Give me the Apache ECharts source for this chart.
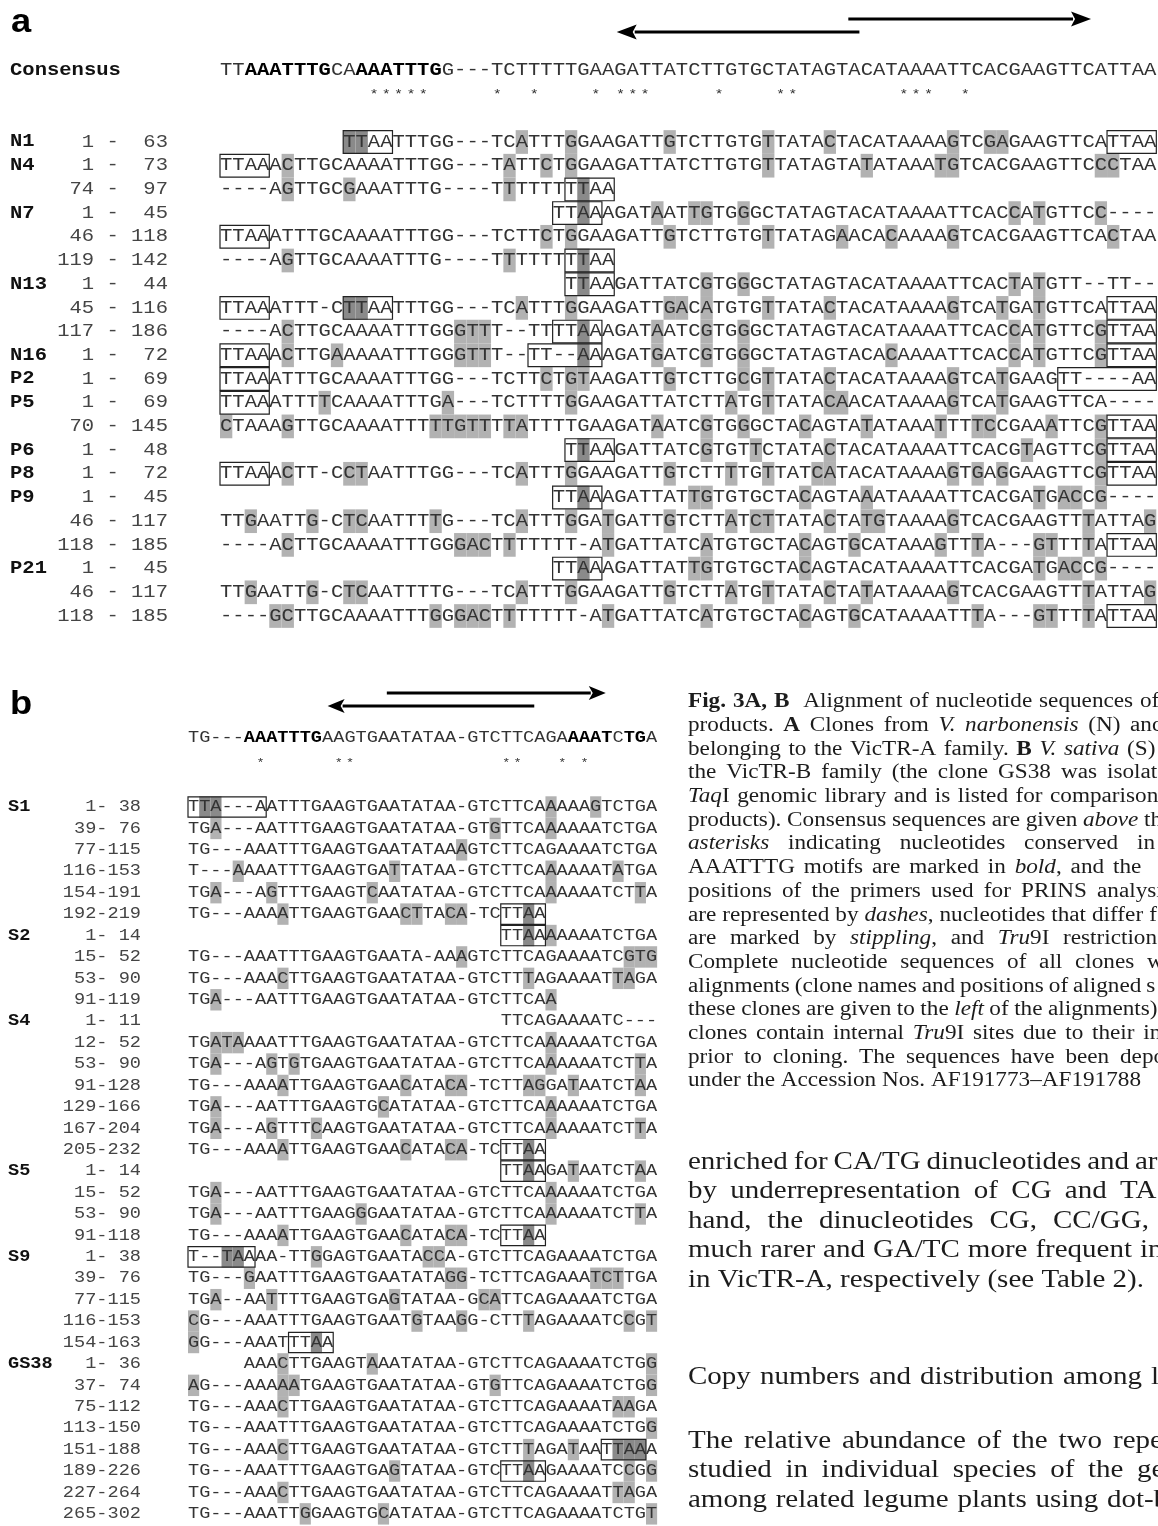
<!DOCTYPE html>
<html><head><meta charset="utf-8">
<script src="https://cdn.jsdelivr.net/npm/echarts@6/dist/echarts.min.js"></script>
<style>html,body{margin:0;padding:0;background:#fff}#main{width:1158px;height:1526px}</style>
</head><body><div id="main"></div>
<script>
// ===================== DATA =====================
// Panel a (VicTR-A). Lowercase letter = nucleotide differing from consensus (stippled).
const A_consensus = 'TTAAATTTGCAAAATTTGG---TCTTTTTGAAGATTATCTTGTGCTATAGTACATAAAATTCACGAAGTTCATTAA';
const A_consBold = [[2, 8], [11, 17]];
const A_stars = [12, 13, 14, 15, 16, 22, 25, 30, 32, 33, 34, 40, 45, 46, 55, 56, 57, 60];
const A_primers = [[51.9, 32.2], [51.0, 70.7]];
const A_names = ['N1', 'N4', '', 'N7', '', '', 'N13', '', '', 'N16', 'P2', 'P5', '', 'P6', 'P8', 'P9', '', '', 'P21', '', ''];
const A_from = [1, 1, 74, 1, 46, 119, 1, 45, 117, 1, 1, 1, 70, 1, 1, 1, 46, 118, 1, 46, 118];
const A_to = [63, 73, 97, 45, 118, 142, 44, 116, 186, 72, 69, 69, 145, 48, 72, 45, 117, 185, 45, 117, 185];
const A_seqs = [
  ' '.repeat(10) + 'ttAATTTGG---TCaTTTgGAAGATTgTCTTGTGtTATAcTACATAAAAgTCgaGAAGTTCATTAA',
  'TTAAAcTTGCAAAATTTGG---TaTTcTgGAAGATTATCTTGTGtTATAGTAtATAAAtgTCACGAAGTTCccTAA',
  '----AgTTGCgAAATTTG----TtTTTTTtAA',
  ' '.repeat(27) + 'TTaAAGATaATtgTGgGCTATAGTACATAAAATTCACcAtGTTCc----',
  'TTAAATTTGCAAAATTTGG---TCTTcTgGAAGATTgTCTTGTGtTATAGaACAcAAAAgTCACGAAGTTCAcTAA',
  '----AgTTGCAAAATTTG----TtTTTTTtAA',
  ' '.repeat(28) + 'TtAAGATTATCgTGgGCTATAGTACATAAAATTCACtAtGTT--TT--',
  'TTAAATTT-CttAATTTGG---TCaTTTgGAAGATTgaCaTGTGtTATAcTACATAAAAgTCAtGAtGTTCATTAA',
  '----AcTTGCAAAATTTGGgttT--TTTTaAAGATaATCgTGgGCTATAGTACATAAAATTCACcAtGTTCgTTAA',
  'TTAAAcTTGaAAAATTTGGgttT--TT--aAAGATgATCgTGgGCTATAGTACAcAAAATTCACcAtGTTCgTTAA',
  'TTAAATTTGCAAAATTTGG---TCTTcTgtAAGATTgTCTTGcGtTATAcTACATAAAAgTCAtGAAGTT----AA',
  'TTAAATTTtCAAAATTTGa---TCTTTTgGAAGATTATCTTaTGtTATAcaACATAAAAgTCAtGAAGTTCA----',
  'cTAAAgTTGCAAAATTTttgttTtaTTTTGAAGATaATCgTGgGCTAcAGTAtATAAAtTTtcCGAAaTTCgTTAA',
  ' '.repeat(28) + 'TtAAGATTATCgTGTtCTATAcTACATAAAATTCACGtAGTTCgTTAA',
  'TTAAAcTT-CctAATTTGG---TCaTTTgGAAGATTgTCTTtTGtTATcaTACATAAAAgTgAgGAAGTTCgTTAA',
  ' '.repeat(27) + 'TTaAAGATTATtgTGTGCTAcAGTAaATAAAATTCACGAtGacCg----',
  'TTgAATTg-CtcAATTTtG---TCaTTTgGAtGATTgTCTTaTctTATAcTAtgTAAAAgTCACGAAGTTtATTAg',
  '----AcTTGCAAAATTTGGgacTtTTTTT-AtGATTATCaTGTGCTAcAGTgCATAAAgTTtA---gtTTtATTAA',
  ' '.repeat(27) + 'TTaAAGATTATtgTGTGCTAcAGTACATAAAATTCACGAtGacCg----',
  'TTgAATTg-CtcAATTTTG---TCaTTTgGAAGATTgTCTTaTGtTATAcTAtATAAAAgTCACGAAGTTtATTAg',
  '----gcTTGCAAAATTTgGgacTtTTTTT-AtGATTATCaTGTGCTAcAGTgCATAAAATTtA---gtTTtATTAA'
];
// Tru9I boxes: [row, first column, length]
const A_boxes = [[0, 10, 4], [0, 72, 4], [1, 0, 4], [2, 28, 4], [3, 27, 4], [4, 0, 4], [5, 28, 4], [6, 28, 4],
  [7, 0, 4], [7, 10, 4], [7, 72, 4], [8, 27, 4], [8, 72, 4], [9, 0, 4], [9, 25, 6], [9, 72, 4], [10, 0, 4], [10, 68, 8],
  [11, 0, 4], [12, 72, 4], [13, 28, 4], [13, 72, 4], [14, 0, 4], [14, 72, 4], [15, 27, 4], [17, 72, 4], [18, 27, 4], [20, 72, 4]];

// Panel b (VicTR-B)
const B_consensus = 'TG---AAATTTGAAGTGAATATAA-GTCTTCAGAAAATCTGA';
const B_consBold = [[5, 11], [34, 37], [39, 40]];
const B_stars = [6, 13, 14, 28, 29, 33, 35];
const B_primers = [[31.0, 12.5], [17.8, 37.4]];
const B_names = ['S1', '', '', '', '', '', 'S2', '', '', '', 'S4', '', '', '', '', '', '', 'S5', '', '', '', 'S9', '', '', '', '', 'GS38', '', '', '', '', '', '', ''];
const B_from = [1, 39, 77, 116, 154, 192, 1, 15, 53, 91, 1, 12, 53, 91, 129, 167, 205, 1, 15, 53, 91, 1, 39, 77, 116, 154, 1, 37, 75, 113, 151, 189, 227, 265];
const B_to = [38, 76, 115, 153, 191, 219, 14, 52, 90, 119, 11, 52, 90, 128, 166, 204, 232, 14, 52, 90, 118, 38, 76, 115, 153, 163, 36, 74, 112, 150, 188, 226, 264, 302];
const B_seqs = [
  'Tta---AATTTGAAGTGAATATAA-GTCTTCAaAAAgTCTGA',
  'TGa---AATTTGAAGTGAATATAA-GTgTTCAaAAAATCTGA',
  'TG---AAATTTGAAGTGAATATAAaGTCTTCAGAAAATCTGA',
  'T---aAAATTTGAAGTGAtTATAA-GTCTTCAaAAAATaTGA',
  'TGa---AgTTTGAAGTcAATATAA-GTCTTCAaAAAATCTtA',
  'TG---AAAaTTGAAGTGAActTAca-TCTTaA',
  ' '.repeat(28) + 'TTaAaAAAATCTGA',
  'TG---AAATTTGAAGTGAATA-AAaGTCTTCAGAAAATCgtg',
  'TG---AAAcTTGAAGTGAATATAA-GTCTTtAGAAAATtaGA',
  'TGa---AATTTGAAGTGAATATAA-GTCTTCAa',
  ' '.repeat(28) + 'TTCAGAAAATC---',
  'TGataAAATTTGAAGTGAATATAA-GTCTTCAaAAAATCTGA',
  'TGa---AgTgTGAAGTGAATATAA-GTCTTCAaAAAATCTtA',
  'TG---AAAaTTGAAGTGAAcATAca-TCTTagGAtAATCTaA',
  'TGa---AATTTGAAGTGcATATAA-GTCTTCAaAAAATCTGA',
  'TGa---AgTTTcAAGTGAATATAA-GTCTTCAaAAAATCTtA',
  'TG---AAAaTTGAAGTGAAcATAca-TCTTaA',
  ' '.repeat(28) + 'TTaAGAtAATCTaA',
  'TGa---AATTTGAAGTGAATATAA-GTCTTCAaAAAATCTGA',
  'TGa---AATTTGAAGgGAATATAA-GTCTTCAaAAAATCTtA',
  'TG---AAAaTTGAAGTGAAcATAca-TCTTaA',
  'T--taAAA-TTgGAGTGAATAccA-GTCTTCAGAAAATCTGA',
  'TG---gAATTTGAAGTGAATATAgg-TCTTCAGAAAtctTGA',
  'TGa--AAtTTTGAAGTGAgTATAA-GcaTTCAGAAAATCTGA',
  'cG---AAATTTGAAGTGAATgTAAgG-CTTtAGAAAATCcGt',
  'gG---AAATTTaA',
  ' '.repeat(5) + 'AAAcTTGAAGTaAATATAA-GTCTTCAGAAAATCTGg',
  'aG---AAAaaTGAAGTGAATATAA-GTgTTCAGAAAATCTGg',
  'TG---AAAcTTGAAGTGAATATAA-GTCTTCAGAAAATaaGA',
  'TG---AAATTTGAAGTGAATATAA-GTCTTCAGAAAATCTGg',
  'TG---AAAcTTGAAGTGAATATAA-GTCTTtAGAtAATtaaA',
  'TG---AAATTTGAAGTGAgTATAA-GTCTTaAGAAAATCcGg',
  'TG---AAAcTTGAAGTGAATATAA-GTCTTCAGAAAATtaGA',
  'TG---AAATTgGAAGTGcATATAA-GTCTTCAGAAAATCTGt'
];
const B_boxes = [[0, 0, 7], [5, 28, 4], [6, 28, 4], [16, 28, 4], [17, 28, 4], [20, 28, 4], [21, 0, 6], [25, 9, 4], [30, 37, 4], [31, 28, 4]];

// Caption and body text (markup: *bold*, _italic_)
const CAPTION = [
  ['*Fig.*', '*3A,*', '*B*', '', 'Alignment', 'of', 'nucleotide', 'sequences', 'of'],
  ['products.', '*A*', 'Clones', 'from', '_V._', '_narbonensis_', '(N)', 'and'],
  ['belonging', 'to', 'the', 'VicTR-A', 'family.', '*B*', '_V._', '_sativa_', '(S)'],
  ['the', 'VicTR-B', 'family', '(the', 'clone', 'GS38', 'was', 'isolated'],
  ['_Taq_I', 'genomic', 'library', 'and', 'is', 'listed', 'for', 'comparison'],
  ['products).', 'Consensus', 'sequences', 'are', 'given', '_above_', 'th'],
  ['_asterisks_', 'indicating', 'nucleotides', 'conserved', 'in'],
  ['AAATTTG', 'motifs', 'are', 'marked', 'in', '_bold_,', 'and', 'the'],
  ['positions', 'of', 'the', 'primers', 'used', 'for', 'PRINS', 'analysis.', 'D'],
  ['are', 'represented', 'by', '_dashes_,', 'nucleotides', 'that', 'differ', 'f'],
  ['are', 'marked', 'by', '_stippling_,', 'and', '_Tru_9I', 'restriction'],
  ['Complete', 'nucleotide', 'sequences', 'of', 'all', 'clones', 'w'],
  ['alignments', '(clone', 'names', 'and', 'positions', 'of', 'aligned', 's'],
  ['these', 'clones', 'are', 'given', 'to', 'the', '_left_', 'of', 'the', 'alignments).'],
  ['clones', 'contain', 'internal', '_Tru_9I', 'sites', 'due', 'to', 'their', 'in'],
  ['prior', 'to', 'cloning.', 'The', 'sequences', 'have', 'been', 'depo'],
  ['under', 'the', 'Accession', 'Nos.', 'AF191773\u2013AF191788']
];
const BODY = [
  ['enriched', 'for', 'CA/TG', 'dinucleotides', 'and', 'ar'],
  ['by', 'underrepresentation', 'of', 'CG', 'and', 'TA'],
  ['hand,', 'the', 'dinucleotides', 'CG,', 'CC/GG,'],
  ['much', 'rarer', 'and', 'GA/TC', 'more', 'frequent', 'in'],
  ['in', 'VicTR-A,', 'respectively', '(see', 'Table', '2).']
];
const HEADING = ['Copy', 'numbers', 'and', 'distribution', 'among', 'l'];
const PARA = [
  ['The', 'relative', 'abundance', 'of', 'the', 'two', 'repe'],
  ['studied', 'in', 'individual', 'species', 'of', 'the', 'ge'],
  ['among', 'related', 'legume', 'plants', 'using', 'dot-b']
];

// ===================== LAYOUT =====================
const A_X0 = 220, A_CW = 12.32, A_Y0 = 142, A_PITCH = 23.7, A_FS = 17.7;
const B_X0 = 188, B_CW = 11.17, B_Y0 = 807, B_PITCH = 21.42, B_FS = 16.0;
const A_SX = A_CW / (0.6 * A_FS), B_SX = B_CW / (0.6 * B_FS);   // scanned page is horizontally stretched
const A_NCOL = 76, B_NCOL = 42;
const A_CONS_ROW = (70.5 - A_Y0) / A_PITCH, A_STAR_ROW = (94.5 - A_Y0) / A_PITCH;
const B_CONS_ROW = (738 - B_Y0) / B_PITCH, B_STAR_ROW = (762.5 - B_Y0) / B_PITCH;
const A_ARROW_ROWS = [(32 - A_Y0) / A_PITCH, (19 - A_Y0) / A_PITCH];
const B_ARROW_ROWS = [(706 - B_Y0) / B_PITCH, (693 - B_Y0) / B_PITCH];
const MONO = 'Liberation Mono';
const SEQ_COLOR = '#333333', STIP = '#b2b2b2', STIP_DARK = '#8a8a8a';
const TXT_SX = 1.16;

function buildCells(seqs, boxes) {
  const cells = [];
  seqs.forEach((s, r) => {
    for (let c = 0; c < s.length; c++) {
      const ch = s[c];
      if (ch === ' ') continue;
      const stip = ch !== ch.toUpperCase();
      const inBox = boxes.some(b => b[0] === r && c >= b[1] && c < b[1] + b[2]);
      cells.push({ col: c, row: r, ch: ch.toUpperCase(), stip, dark: stip && inBox, bold: false });
    }
  });
  return cells;
}
function headerCells(cons, bold, stars, consRow, starRow) {
  const cells = [];
  for (let c = 0; c < cons.length; c++) {
    const b = bold.some(r => c >= r[0] && c <= r[1]);
    cells.push({ col: c, row: consRow, ch: cons[c], stip: false, bold: b, star: false });
  }
  stars.forEach(c => cells.push({ col: c, row: starRow, ch: '*', stip: false, bold: false, star: true }));
  return cells;
}

function textSeries(gi, cells, fs, starFs, sx) {
  return {
    type: 'custom', xAxisIndex: gi, yAxisIndex: gi, silent: true, z: 3, clip: false, progressive: 0,
    data: cells.map(c => [c.col + 0.5, c.row]),
    renderItem: (params, api) => {
      const c = cells[params.dataIndex];
      const p = api.coord([c.col + 0.5, c.row]);
      return {
        type: 'text', x: p[0], y: p[1], scaleX: sx,
        style: {
          text: c.ch, align: 'center', verticalAlign: 'middle',
          fontFamily: MONO, fontSize: c.star ? starFs : fs, fontWeight: c.bold ? 'bold' : 'normal',
          fill: c.bold ? '#000' : SEQ_COLOR
        }
      };
    }
  };
}
function stipSeries(gi, cells) {
  const st = cells.filter(c => c.stip);
  return {
    type: 'custom', xAxisIndex: gi, yAxisIndex: gi, silent: true, z: 1, clip: false, progressive: 0,
    data: st.map(c => [c.col + 0.5, c.row]),
    renderItem: (params, api) => {
      const c = st[params.dataIndex];
      const p = api.coord([c.col + 0.5, c.row]);
      const s = api.size([1, 1]);
      const w = Math.abs(s[0]), h = Math.abs(s[1]);
      return { type: 'rect', shape: { x: p[0] - w / 2, y: p[1] - h / 2, width: w, height: h },
        style: { fill: c.dark ? STIP_DARK : STIP } };
    }
  };
}
function boxSeries(gi, boxes) {
  return {
    type: 'custom', xAxisIndex: gi, yAxisIndex: gi, silent: true, z: 2, clip: false, progressive: 0,
    data: boxes.map(b => [b[1], b[0], b[2]]),
    renderItem: (params, api) => {
      const b = boxes[params.dataIndex];
      const p0 = api.coord([b[1], b[0]]);
      const p1 = api.coord([b[1] + b[2], b[0]]);
      const h = Math.abs(api.size([1, 1])[1]) - 1;
      return { type: 'rect', shape: { x: p0[0], y: p0[1] - h / 2, width: p1[0] - p0[0], height: h },
        style: { fill: 'none', stroke: '#222', lineWidth: 1.2 } };
    }
  };
}
function labelSeries(gi, names, from, to, nameX, rightX, fs, sep, sx) {
  return {
    type: 'custom', xAxisIndex: gi, yAxisIndex: gi, silent: true, z: 3, clip: false, progressive: 0,
    data: names.map((n, r) => [0, r]),
    renderItem: (params, api) => {
      const r = params.dataIndex;
      const y = api.coord([0, r])[1];
      const txt = String(from[r]).padStart(3, ' ') + sep + String(to[r]).padStart(3, ' ');
      const ch = [{ type: 'text', x: rightX, y, scaleX: sx, style: { text: txt, align: 'right', verticalAlign: 'middle',
        fontFamily: MONO, fontSize: fs, fill: '#444' } }];
      if (names[r]) ch.push({ type: 'text', x: nameX, y, scaleX: sx, style: { text: names[r], align: 'left', verticalAlign: 'middle',
        fontFamily: MONO, fontWeight: 'bold', fontSize: fs, fill: '#111' } });
      return { type: 'group', children: ch };
    }
  };
}
function arrowSeries(gi, primers, rows, L, H) {
  return {
    type: 'custom', xAxisIndex: gi, yAxisIndex: gi, silent: true, z: 3, clip: false,
    data: primers.map((p, i) => [p[0], rows[i]]),
    renderItem: (params, api) => {
      const i = params.dataIndex, p = primers[i];
      const a = api.coord([p[0], rows[i]]), b = api.coord([p[1], rows[i]]);
      const dir = Math.sign(b[0] - a[0]);
      const base = b[0] - dir * L;
      return { type: 'group', children: [
        { type: 'line', shape: { x1: a[0], y1: a[1], x2: base + dir * 2, y2: b[1] }, style: { stroke: '#000', lineWidth: 3 } },
        { type: 'polygon', shape: { points: [[b[0], b[1]], [base, b[1] - H], [base + dir * 4, b[1]], [base, b[1] + H]] }, style: { fill: '#000' } }
      ] };
    }
  };
}

// ----- caption / body text layout (justified by anchor) -----
const mctx = document.createElement('canvas').getContext('2d');
function parseWord(w) {
  const segs = []; let b = false, it = false, cur = '';
  for (const ch of w) {
    if (ch === '*' || ch === '_') { if (cur) { segs.push({ t: cur, b, i: it }); cur = ''; } if (ch === '*') b = !b; else it = !it; }
    else cur += ch;
  }
  if (cur) segs.push({ t: cur, b, i: it });
  return segs;
}
function fstr(size, b, i) { return (i ? 'italic ' : '') + (b ? 'bold ' : '') + size + 'px "Liberation Serif"'; }
function mw(t, f) { mctx.font = f; return mctx.measureText(t).width * TXT_SX; }
function layoutLine(words, size, x0, y, anchor, out) {
  const parsed = words.map(parseWord);
  const widths = parsed.map(segs => segs.reduce((s, g) => s + mw(g.t, fstr(size, g.b, g.i)), 0));
  let gap = mw(' ', fstr(size, false, false));
  if (anchor) { let sum = 0; for (let j = 0; j < anchor[0]; j++) sum += widths[j]; gap = (anchor[1] - x0 - sum) / anchor[0]; }
  let x = x0;
  parsed.forEach((segs, j) => {
    let sx = x;
    segs.forEach(g => {
      const f = fstr(size, g.b, g.i);
      out.push({ type: 'text', x: sx, y, scaleX: TXT_SX, silent: true, style: { text: g.t, font: f, fill: '#1c1c1c', align: 'left', verticalAlign: 'middle' } });
      sx += mw(g.t, f);
    });
    x += widths[j] + gap;
  });
}
const CAP_X = 688, CAP_Y0 = 702, CAP_DY = 23.7, CAP_FS = 20;
const CAP_ANCHORS = [[8, 1140], [7, 1130], [8, 1127], [7, 1107], [7, 1050], [5, 1083], [4, 1137], [7, 1113], [7, 1097],
  [6, 1092], [6, 1063], [5, 1075], [6, 1073], [9, 1048], [7, 1092], [7, 1120], null];
const BODY_FS = 25, BODY_DY = 29.5;
const BODY_ANCHORS = [[5, 1135], [5, 1120], [4, 1053], [6, 1140], null];
const PARA_ANCHORS = [[6, 1113], [6, 1137], [5, 1107]];

const graphics = [];
CAPTION.forEach((w, i) => layoutLine(w, CAP_FS, CAP_X, CAP_Y0 + i * CAP_DY, CAP_ANCHORS[i], graphics));
BODY.forEach((w, i) => layoutLine(w, BODY_FS, CAP_X, 1162 + i * BODY_DY, BODY_ANCHORS[i], graphics));
layoutLine(HEADING, BODY_FS, CAP_X, 1377, [4, 1063], graphics);
PARA.forEach((w, i) => layoutLine(w, BODY_FS, CAP_X, 1441 + i * BODY_DY, PARA_ANCHORS[i], graphics));
graphics.push({ type: 'text', x: 11, y: 23, scaleX: 1.1, silent: true, style: { text: 'a', font: 'bold 33px "Liberation Sans"', fill: '#000', align: 'left', verticalAlign: 'middle' } });
graphics.push({ type: 'text', x: 10, y: 705, scaleX: 1.1, silent: true, style: { text: 'b', font: 'bold 33px "Liberation Sans"', fill: '#000', align: 'left', verticalAlign: 'middle' } });
graphics.push({ type: 'text', x: 10, y: 70.5, scaleX: A_SX, silent: true, style: { text: 'Consensus', font: 'bold ' + A_FS + 'px "' + MONO + '"', fill: '#111', align: 'left', verticalAlign: 'middle' } });

// ===================== CHART =====================
const A_cells = buildCells(A_seqs, A_boxes);
const B_cells = buildCells(B_seqs, B_boxes);
const A_head = headerCells(A_consensus, A_consBold, A_stars, A_CONS_ROW, A_STAR_ROW);
const B_head = headerCells(B_consensus, B_consBold, B_stars, B_CONS_ROW, B_STAR_ROW);

const chart = echarts.init(document.getElementById('main'), null, { renderer: 'canvas', width: 1158, height: 1526 });
chart.setOption({
  backgroundColor: '#fff',
  animation: false,
  grid: [
    { left: A_X0, width: A_NCOL * A_CW, top: A_Y0 - A_PITCH / 2, height: A_seqs.length * A_PITCH },
    { left: B_X0, width: B_NCOL * B_CW, top: B_Y0 - B_PITCH / 2, height: B_seqs.length * B_PITCH }
  ],
  xAxis: [
    { type: 'value', gridIndex: 0, min: 0, max: A_NCOL, show: false },
    { type: 'value', gridIndex: 1, min: 0, max: B_NCOL, show: false }
  ],
  yAxis: [
    { type: 'value', gridIndex: 0, min: -0.5, max: A_seqs.length - 0.5, inverse: true, show: false },
    { type: 'value', gridIndex: 1, min: -0.5, max: B_seqs.length - 0.5, inverse: true, show: false }
  ],
  graphic: graphics,
  series: [
    stipSeries(0, A_cells), boxSeries(0, A_boxes), textSeries(0, A_cells, A_FS, 13, A_SX), textSeries(0, A_head, A_FS, 13, A_SX),
    labelSeries(0, A_names, A_from, A_to, 10, 168, A_FS, ' - ', A_SX), arrowSeries(0, A_primers, A_ARROW_ROWS, 20, 7.5),
    stipSeries(1, B_cells), boxSeries(1, B_boxes), textSeries(1, B_cells, B_FS, 11.5, B_SX), textSeries(1, B_head, B_FS, 11.5, B_SX),
    labelSeries(1, B_names, B_from, B_to, 8, 141, B_FS, '-', B_SX), arrowSeries(1, B_primers, B_ARROW_ROWS, 17, 7)
  ]
});
</script></body></html>
